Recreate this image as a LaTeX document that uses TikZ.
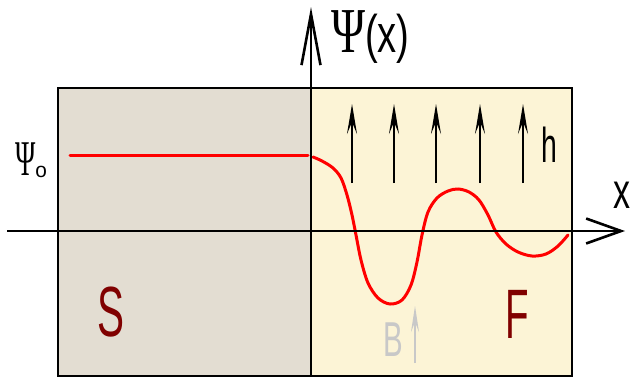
\documentclass[tikz,border=0pt]{standalone}
\usepackage{fontspec}
\setmainfont{Liberation Sans}
\newfontfamily\psifont{Liberation Serif}
\usetikzlibrary{arrows.meta}
\definecolor{SFill}{HTML}{E3DDD2}
\definecolor{FFill}{HTML}{FCF4D6}
\definecolor{LetterRed}{HTML}{800000}
\definecolor{WaveRed}{HTML}{FF0000}
\definecolor{FieldGray}{HTML}{C8C8C8}
\begin{document}
\begin{tikzpicture}[x=1pt,y=-1pt,
  region/.style={draw=black,line width=2.6pt},
  haxis/.style={line width=2.6pt,-{Straight Barb[length=35pt,width=25pt]}},
  vaxis/.style={line width=2.6pt,-{Straight Barb[length=51pt,width=19pt]}},
  lbl/.style={inner sep=0pt,font=\fontsize{#1}{#1}\selectfont},
  wave/.style={draw=WaveRed,line width=3pt,line cap=round},
  field/.style={line width=2pt,-{Stealth[length=30pt,width=10pt,inset=12pt]}},
  bfield/.style={line width=1.5pt,draw=FieldGray,-{Stealth[length=26pt,width=8pt,inset=10pt]}}
]
\useasboundingbox (0,0) rectangle (631,378);
\fill[SFill] (58,88) rectangle (311,376);
\fill[FFill] (311,88) rectangle (572,376);
\draw[region] (58,88) rectangle (572,376);
\draw[wave] (70,155) -- (308,155);
\draw[wave] plot[smooth,tension=0.55] coordinates {(313,157) (322,161) (333,168) (341,178)
  (347,195) (352,215) (356,235) (361,260) (368,283) (378,298) (390,304) (402,300) (411,285)
  (417,262) (422,235) (428,212) (437,198) (448,191) (458,189) (469,192) (479,200) (488,215)
  (496,232) (506,244) (518,252) (532,256) (546,254) (558,246) (568,235)};
\coordinate (xstart) at (7,231);
\coordinate (xend) at (625,231);
\coordinate (vbot) at (311,376);
\coordinate (vtop) at (311,7);
\draw[haxis] (xstart) -- (xend);
\draw[vaxis] (vbot) -- (vtop);
\foreach \hx [count=\i] in {352,394,436,480,523} {
  \coordinate (hbot\i) at (\hx,183);
  \coordinate (htop\i) at (\hx,104);
  \draw[field] (hbot\i) -- (htop\i);
}
\coordinate (bbot) at (415,363);
\coordinate (btop) at (415,306);
\draw[bfield] (bbot) -- (btop);
\node[lbl=53,anchor=base west,xscale=0.72] (psix) at (331,52)
  {{\psifont\fontsize{64}{64}\selectfont Ψ}(x)};
\node[lbl=21,anchor=base west,xscale=0.55] (psio) at (15,175)
  {{\psifont\fontsize{50}{50}\selectfont Ψ}\raisebox{-2pt}{\scalebox{1.8}[1]{o}}};
\node[lbl=71,text=LetterRed,xscale=0.57] (S) at (111,312) {S};
\node[lbl=70,text=LetterRed,xscale=0.55] (F) at (517,314) {F};
\node[lbl=49,text=FieldGray,xscale=0.6] (B) at (393,340) {B};
\node[lbl=49,xscale=0.58] (h) at (549,145) {h};
\node[lbl=50,xscale=0.68] (xlbl) at (622,195) {x};
\end{tikzpicture}
\end{document}
